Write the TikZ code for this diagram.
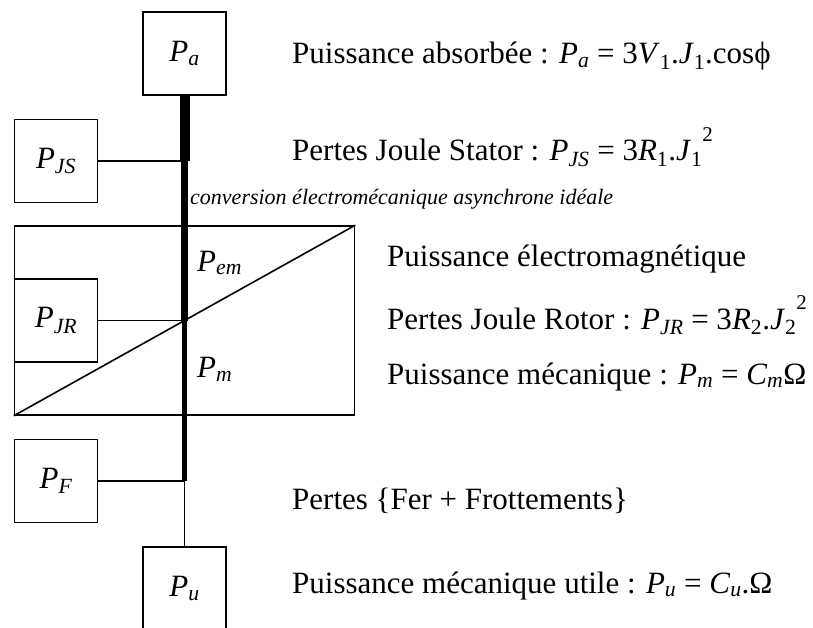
\documentclass[tikz,border=0pt]{standalone}
\usepackage{fontspec}
\setmainfont{Liberation Serif}
\usetikzlibrary{positioning,calc}
\tikzset{
  pbox/.style={draw, line width=1.6pt, minimum width=83pt, minimum height=83pt,
               inner sep=0pt, font=\fontsize{31}{31}\selectfont},
  plink/.style={line width=1.6pt},
  pflow/.style={line width=#1, line cap=butt},
  plab/.style={anchor=base west, inner sep=0pt, font=\fontsize{31}{31}\selectfont},
  pnote/.style={anchor=base west, inner sep=0pt, font=\fontsize{22}{22}\selectfont\itshape},
}
% italic symbol with italic (letter) or upright (digit) index
\newcommand{\pv}[2]{\textit{#1}\textsubscript{\textit{#2}}}
\newcommand{\pn}[2]{\textit{#1}\textsubscript{#2}}
\newcommand{\sqr}{\raisebox{0.62em}{\fontsize{21}{21}\selectfont 2}}

\begin{document}
\begin{tikzpicture}[x=1pt,y=-1pt]
\useasboundingbox (0,0) rectangle (813,628);
% power boxes
\node[pbox] (pa) at (184.5,53.5) {\pv{P}{a}};
\node[pbox] (pjs) at (56,161) {\pv{P}{JS}};
\node[pbox] (pjr) at (56,320.5) {\pv{P}{JR}};
\node[pbox] (pf) at (56,481) {\pv{P}{F}};
\node[pbox] (pu) at (184.5,588.5) {\pv{P}{u}};
% ideal conversion block
\node[draw, line width=1.6pt, minimum width=340pt, minimum height=189pt, inner sep=0pt]
  (conv) at (184.5,320.5) {};
\draw[plink] (conv.south west) -- (conv.north east);
\node[plab] (pem) at (197,271) {\pv{P}{em}};
\node[plab] (pm) at (197,377.5) {\pv{P}{m}};
% losses
\draw[plink] (pjs.east) -- (pjs.east -| pa.south);
\draw[plink] (pjr.east) -- (conv.center);
\draw[plink] (pf.east) -- (pf.east -| pa.south);
% power flow
\draw[pflow=10pt] (pa.south) -- (pa.south |- pjs.east);
\draw[pflow=7pt] (pa.south |- pjs.east) -- (conv.center);
\draw[pflow=4.5pt] (conv.center) -- (conv.center |- pf.east);
\draw[plink] (conv.center |- pf.east) -- (pu.north);
% texts
\node[plab] (ta) at (292,64) {Puissance absorbée : \pv{P}{a} = 3\pn{V}{1}.\pn{J}{1}.cosϕ};
\node[plab] (tjs) at (292,161) {Pertes Joule Stator : \pv{P}{JS} = 3\pn{R}{1}.\pn{J}{1}\sqr};
\node[pnote] (tconv) at (190,205) {conversion électromécanique asynchrone idéale};
\node[plab] (tem) at (387,266) {Puissance électromagnétique};
\node[plab] (tjr) at (387,329) {Pertes Joule Rotor : \pv{P}{JR} = 3\pn{R}{2}.\pn{J}{2}\sqr};
\node[plab] (tm) at (387,384) {Puissance mécanique : \pv{P}{m} = \pv{C}{m}Ω};
\node[plab] (tf) at (292,509) {Pertes \{Fer + Frottements\}};
\node[plab] (tu) at (292,593) {Puissance mécanique utile : \pv{P}{u} = \pv{C}{u}.Ω};
\end{tikzpicture}
\end{document}
